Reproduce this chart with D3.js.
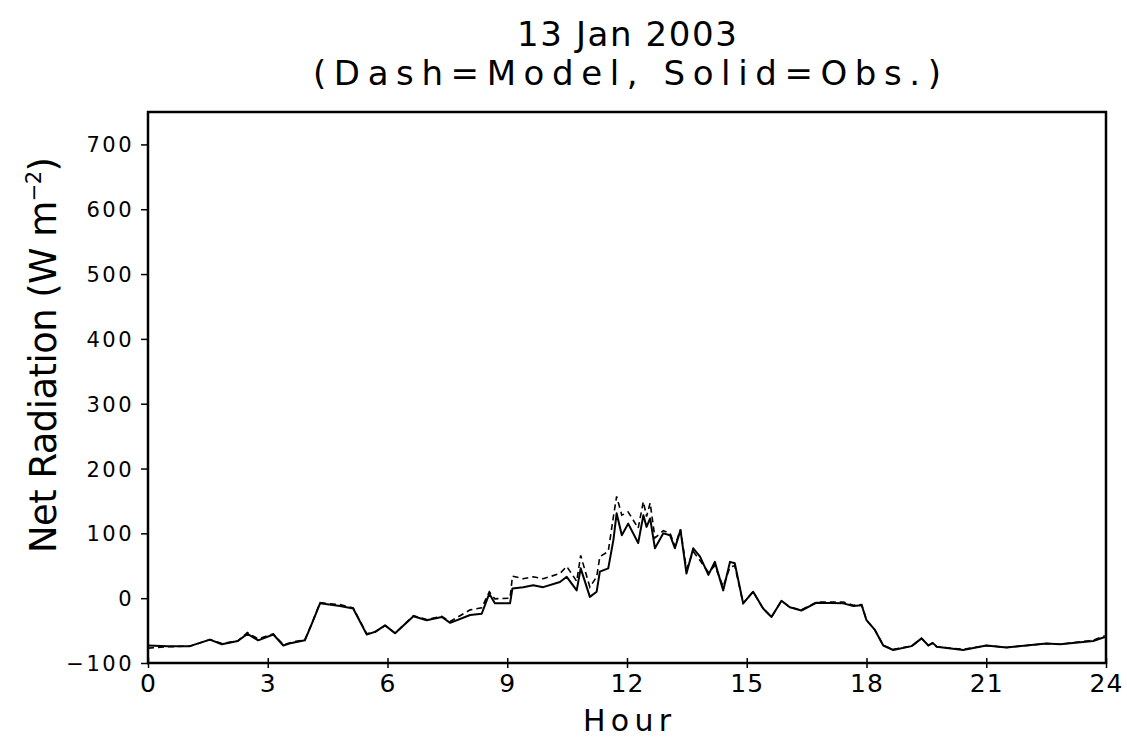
<!DOCTYPE html>
<html lang="en">
<head>
  <meta charset="UTF-8">
  <title>Net Radiation 13 Jan 2003</title>
  <script src="https://d3js.org/d3.v7.min.js"></script>
  <style>
    body {
      margin: 0;
      overflow: hidden;
      background: white;
    }
    text {
      font-family: "DejaVu Sans", "Liberation Sans", sans-serif;
      fill: black;
    }
  </style>
</head>
<body>
  <script>
    // hour of day, observed and modelled net radiation (W m-2)
    const hours = [0.0, 0.5, 1.05, 1.55, 1.85, 2.25, 2.49, 2.76, 3.14, 3.39, 3.6, 3.93, 4.1, 4.31, 4.81, 5.14,
      5.48, 5.69, 5.94, 6.19, 6.65, 6.98, 7.36, 7.57, 8.07, 8.36, 8.55, 8.69, 9.07, 9.13, 9.4, 9.65, 9.9,
      10.32, 10.49, 10.74, 10.84, 11.07, 11.24, 11.32, 11.53, 11.66, 11.74, 11.87, 12.03, 12.28, 12.41, 12.49,
      12.58, 12.7, 12.91, 13.08, 13.2, 13.34, 13.49, 13.66, 13.83, 14.04, 14.2, 14.41, 14.58, 14.7, 14.91,
      15.16, 15.41, 15.62, 15.87, 16.08, 16.37, 16.75, 17.42, 17.67, 17.88, 18.0, 18.21, 18.42, 18.67, 19.13,
      19.38, 19.55, 19.66, 19.76, 20.42, 21.0, 21.51, 22.51, 22.85, 23.68, 23.97];

    const observed = [-73, -74, -74, -64, -71, -66, -55, -65, -56, -73, -69, -65, -40, -8, -12, -16,
      -56, -52, -42, -54, -28, -34, -29, -38, -26, -24, 7, -8, -8, 15, 17, 20, 17,
      25, 33, 12, 46, 2, 10, 41, 46, 90, 131, 97, 115, 85, 128, 110,
      123, 77, 100, 97, 77, 105, 38, 77, 64, 36, 56, 12, 56, 54, -8,
      10, -16, -29, -4, -14, -19, -7, -8, -12, -11, -34, -49, -73, -80, -74,
      -62, -73, -69, -75, -80, -73, -76, -70, -71, -66, -60];

    const model = [-77, -75, -74, -64, -70, -66, -53, -63, -55, -72, -68, -64, -40, -7, -10, -15,
      -55, -52, -42, -54, -27, -33, -28, -36, -18, -15, 10, -1, 0, 34, 30, 33, 30,
      38, 49, 26, 66, 17, 33, 64, 72, 126, 157, 128, 133, 108, 149, 126,
      147, 93, 104, 100, 80, 106, 45, 72, 58, 40, 50, 18, 48, 50, -8,
      10, -16, -29, -4, -14, -18, -6, -6, -11, -10, -34, -49, -73, -79, -74,
      -62, -73, -69, -75, -79, -73, -76, -70, -71, -65, -58];

    const xTicks = [0, 3, 6, 9, 12, 15, 18, 21, 24];
    const yTicks = [-100, 0, 100, 200, 300, 400, 500, 600, 700];

    const width = 1127;
    const height = 747;
    const margin = { top: 112, right: 21, bottom: 84, left: 148 };
    const innerW = width - margin.left - margin.right;
    const innerH = height - margin.top - margin.bottom;

    const svg = d3.select("body")
      .append("svg")
      .attr("width", width)
      .attr("height", height);

    const g = svg.append("g")
      .attr("transform", `translate(${margin.left},${margin.top})`);

    const x = d3.scaleLinear().domain([0, 24]).range([0, innerW]);
    const y = d3.scaleLinear().domain([-100, 750]).range([innerH, 0]);

    // y axis, ticks pointing out
    const yAxis = g.append("g")
      .call(d3.axisLeft(y).tickValues(yTicks).tickSize(7).tickPadding(7).tickFormat(d => d < 0 ? "\u2212" + Math.abs(d) : d));
    yAxis.select(".domain").remove();
    yAxis.selectAll("line").attr("stroke-width", 1.5);
    yAxis.selectAll("text")
      .style("font-size", "21px")
      .style("letter-spacing", "2.5px")
      .attr("dy", "0.36em");

    // x axis, short ticks crossing the frame
    const xAxis = g.append("g")
      .attr("transform", `translate(0,${innerH})`)
      .call(d3.axisBottom(x).tickValues(xTicks).tickSize(5).tickPadding(6));
    xAxis.select(".domain").remove();
    xAxis.selectAll("line").attr("y1", -5).attr("y2", 5).attr("stroke-width", 1.5);
    xAxis.selectAll("text")
      .style("font-size", "25px")
      .style("letter-spacing", "1px");

    const line = d3.line()
      .x((d, i) => x(hours[i]))
      .y(d => y(d));

    g.append("path")
      .datum(model)
      .attr("fill", "none")
      .attr("stroke", "black")
      .attr("stroke-width", 1.6)
      .attr("stroke-dasharray", "6,4")
      .attr("d", line);

    g.append("path")
      .datum(observed)
      .attr("fill", "none")
      .attr("stroke", "black")
      .attr("stroke-width", 2)
      .attr("stroke-linejoin", "round")
      .attr("d", line);

    // frame
    g.append("rect")
      .attr("width", innerW)
      .attr("height", innerH)
      .attr("fill", "none")
      .attr("stroke", "black")
      .attr("stroke-width", 2.5);

    // titles
    const cx = margin.left + innerW / 2;
    svg.append("text")
      .attr("x", cx).attr("y", 46)
      .attr("text-anchor", "middle")
      .attr("textLength", 220).attr("lengthAdjust", "spacing")
      .style("font-size", "34px")
      .text("13 Jan 2003");
    svg.append("text")
      .attr("x", cx).attr("y", 85)
      .attr("text-anchor", "middle")
      .attr("textLength", 628).attr("lengthAdjust", "spacing")
      .style("font-size", "34px")
      .text("(Dash=Model, Solid=Obs.)");

    svg.append("text")
      .attr("x", cx).attr("y", 731)
      .attr("text-anchor", "middle")
      .attr("textLength", 88).attr("lengthAdjust", "spacing")
      .style("font-size", "30px")
      .text("Hour");

    const yl = svg.append("text")
      .attr("transform", `translate(56,355) rotate(-90)`)
      .attr("text-anchor", "middle")
      .attr("textLength", 396).attr("lengthAdjust", "spacing")
      .style("font-size", "37px");
    yl.append("tspan").text("Net Radiation (W m");
    yl.append("tspan").attr("dy", -15).style("font-size", "21px").text("\u22122");
    yl.append("tspan").attr("dy", 15).text(")");
  </script>
</body>
</html>
